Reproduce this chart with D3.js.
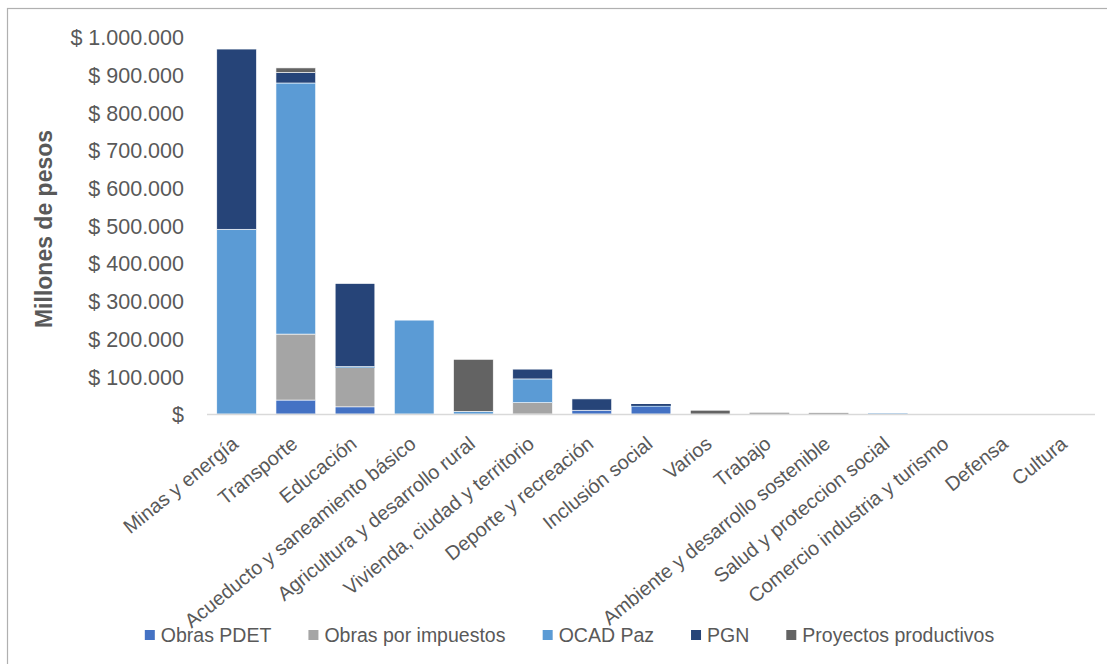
<!DOCTYPE html>
<html><head><meta charset="utf-8">
<script src="https://cdn.jsdelivr.net/npm/d3@7"></script>
<style>
body{margin:0;background:#fff;}
svg{display:block;font-family:"Liberation Sans",Arial,sans-serif;}
</style></head>
<body><svg id="c" width="1107" height="664"></svg>
<script>
const categories = ["Minas y energía","Transporte","Educación","Acueducto y saneamiento básico","Agricultura y desarrollo rural","Vivienda, ciudad y territorio","Deporte y recreación","Inclusión social","Varios","Trabajo","Ambiente y desarrollo sostenible","Salud y proteccion social","Comercio industria y turismo","Defensa","Cultura"];
const seriesNames = ["Obras PDET","Obras por impuestos","OCAD Paz","PGN","Proyectos productivos"];
const obrasPDET      = [0, 37000, 19000, 0, 0, 0, 10000, 20000, 0, 0, 0, 0, 0, 0, 0];
const obrasImpuestos = [0, 175000, 104000, 0, 0, 30000, 0, 0, 0, 3500, 3000, 0, 0, 0, 0];
const ocadPaz        = [490000, 666000, 3000, 249000, 7000, 63000, 0, 1500, 0, 0, 0, 1200, 0, 0, 0];
const pgn            = [478000, 28000, 220000, 0, 0, 26000, 30000, 5000, 0, 0, 0, 0, 0, 0, 0];
const proyectos      = [0, 12000, 0, 0, 138000, 0, 0, 0, 10000, 0, 0, 0, 0, 0, 0];
const yTicks = [0,100000,200000,300000,400000,500000,600000,700000,800000,900000,1000000];
const colors = ["#4472C4","#A5A5A5","#5B9BD5","#264478","#636363"];

const svg = d3.select("#c");
svg.append("rect").attr("x",7.5).attr("y",8.5).attr("width",1120).attr("height",680)
  .attr("fill","#fff").attr("stroke","#b0b0b0").attr("stroke-width",1.2);

const pLeft=207, pRight=1095, pTop=37, pBottom=414;
const x = d3.scaleBand().domain(categories).range([pLeft,pRight]).paddingInner(0.33).paddingOuter(0.165);
const y = d3.scaleLinear().domain([0,1000000]).range([pBottom,pTop]);

const rows = categories.map((c,i)=>({cat:c, "Obras PDET":obrasPDET[i], "Obras por impuestos":obrasImpuestos[i], "OCAD Paz":ocadPaz[i], "PGN":pgn[i], "Proyectos productivos":proyectos[i]}));
const stack = d3.stack().keys(seriesNames)(rows);

const fmt = v => v===0 ? "$" : "$ " + d3.format(",")(v).replace(/,/g,".");
const yAxis = d3.axisLeft(y).tickValues(yTicks).tickFormat(fmt).tickSize(0).tickPadding(0);
const ya = svg.append("g").attr("transform",`translate(184,0)`).call(yAxis);
ya.select(".domain").remove();
ya.selectAll("text").attr("fill","#595959").style("font-size","21.5px").attr("dy","0.36em");

svg.append("text").attr("transform","translate(52,229) rotate(-90)").attr("text-anchor","middle")
  .attr("fill","#595959").style("font-size","23px").style("font-weight","bold").text("Millones de pesos");

svg.append("g").selectAll("g").data(stack).join("g").attr("fill",(d,i)=>colors[i])
  .selectAll("rect").data(d=>d.map(v=>Object.assign(v,{cat:v.data.cat}))).join("rect")
  .attr("x",d=>x(d.cat)).attr("width",x.bandwidth())
  .attr("y",d=>y(d[1])).attr("height",d=>Math.max(0,y(d[0])-y(d[1])))
  .attr("stroke","#ffffff").attr("stroke-width",d=>(y(d[0])-y(d[1]))>2?0.6:0);

svg.append("line").attr("x1",pLeft).attr("x2",pRight).attr("y1",pBottom+0.5).attr("y2",pBottom+0.5)
  .attr("stroke","#d9d9d9").attr("stroke-width",1.5);

const xAxis = d3.axisBottom(x).tickSize(0).tickPadding(0);
const xa = svg.append("g").attr("transform",`translate(0,${pBottom})`).call(xAxis);
xa.select(".domain").remove();
xa.selectAll("text").attr("fill","#595959").style("font-size","19.8px")
  .attr("text-anchor","end").attr("y",0).attr("dy",0)
  .attr("transform","translate(3,32) rotate(-39)");

// legend
const lg = svg.append("g").attr("transform","translate(0,635)");
const items = lg.selectAll("g").data(seriesNames).join("g");
items.append("rect").attr("width",10).attr("height",10).attr("y",-5).attr("fill",(d,i)=>colors[i]);
items.append("text").attr("x",16).attr("dy","0.35em").attr("fill","#595959").style("font-size","19.5px").text(d=>d);
let xpos=0; const gap=37; const pos=[];
items.each(function(){ const w=this.getBBox().width; pos.push(xpos); xpos+=w+gap; });
const total = xpos-gap; const start = 569.6-total/2;
items.attr("transform",(d,i)=>`translate(${start+pos[i]},0)`);
</script></body></html>
